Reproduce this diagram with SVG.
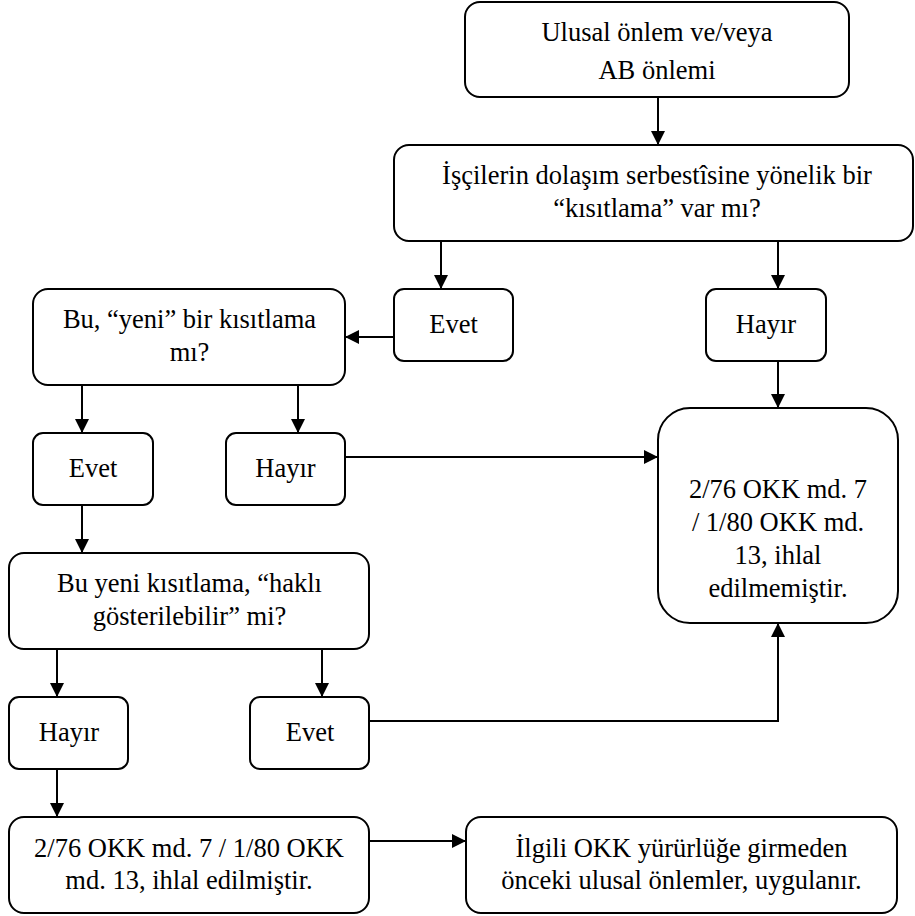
<svg xmlns="http://www.w3.org/2000/svg" width="915" height="916" viewBox="0 0 915 916">
  <style>
    .box { fill: #ffffff; stroke: #000000; stroke-width: 2; }
    .t { font-size: 26.5px; fill: #000000; text-anchor: middle; }
    .c { fill: none; stroke: #000000; stroke-width: 2; marker-end: url(#arr); }
  </style>
  <defs>
    <marker id="arr" markerUnits="userSpaceOnUse" markerWidth="14" markerHeight="14" refX="14" refY="7" orient="auto">
      <path d="M0,0 L14,7 L0,14 Z" fill="#000000"/>
    </marker>
  </defs>
  <rect x="0" y="0" width="915" height="916" fill="#ffffff"/>

  <g id="connectors">
    <path class="c" d="M658,97 L658,145"/>
    <path class="c" d="M441,241 L441,289"/>
    <path class="c" d="M778,241 L778,289"/>
    <path class="c" d="M394,337 L345,337"/>
    <path class="c" d="M778,361 L778,408"/>
    <path class="c" d="M82,385 L82,433"/>
    <path class="c" d="M298,385 L298,433"/>
    <path class="c" d="M345,457 L658,457"/>
    <path class="c" d="M82,505 L82,553"/>
    <path class="c" d="M57,649 L57,697"/>
    <path class="c" d="M322,649 L322,697"/>
    <path class="c" d="M369,721 L778,721 L778,623"/>
    <path class="c" d="M57,769 L57,817"/>
    <path class="c" d="M369,841 L466,841"/>
  </g>

  <g id="nodes" font-family="Liberation Serif, Tinos, Times New Roman, DejaVu Serif, serif">
  <g id="n1">
    <rect class="box" x="465" y="2" width="384" height="95" rx="15"/>
    <text class="t" x="657" y="41">Ulusal önlem ve/veya</text>
    <text class="t" x="657" y="79">AB önlemi</text>
  </g>
  <g id="n2">
    <rect class="box" x="394" y="145" width="519" height="96" rx="15"/>
    <text class="t" x="657" y="184">İşçilerin dolaşım serbestîsine yönelik bir</text>
    <text class="t" x="657" y="217">“kısıtlama” var mı?</text>
  </g>
  <g id="n3">
    <rect class="box" x="394" y="289" width="119" height="72" rx="10"/>
    <text class="t" x="453.5" y="333">Evet</text>
  </g>
  <g id="n4">
    <rect class="box" x="706" y="289" width="120" height="72" rx="10"/>
    <text class="t" x="766" y="333">Hayır</text>
  </g>
  <g id="n5">
    <rect class="box" x="33" y="289" width="312" height="96" rx="15"/>
    <text class="t" x="189.5" y="328">Bu, “yeni” bir kısıtlama</text>
    <text class="t" x="189.5" y="361">mı?</text>
  </g>
  <g id="n6">
    <rect class="box" x="33" y="433" width="120" height="72" rx="10"/>
    <text class="t" x="93" y="477">Evet</text>
  </g>
  <g id="n7">
    <rect class="box" x="226" y="433" width="119" height="72" rx="10"/>
    <text class="t" x="285.5" y="477">Hayır</text>
  </g>
  <g id="n8">
    <rect class="box" x="658" y="408" width="240" height="215" rx="32"/>
    <text class="t" x="778" y="498">2/76 OKK md. 7</text>
    <text class="t" x="778" y="531">/ 1/80 OKK md.</text>
    <text class="t" x="778" y="564">13, ihlal</text>
    <text class="t" x="778" y="597">edilmemiştir.</text>
  </g>
  <g id="n9">
    <rect class="box" x="9" y="553" width="360" height="96" rx="15"/>
    <text class="t" x="189.5" y="592">Bu yeni kısıtlama, “haklı</text>
    <text class="t" x="189.5" y="625">gösterilebilir” mi?</text>
  </g>
  <g id="n10">
    <rect class="box" x="9" y="697" width="119" height="72" rx="10"/>
    <text class="t" x="69" y="741">Hayır</text>
  </g>
  <g id="n11">
    <rect class="box" x="250" y="697" width="119" height="72" rx="10"/>
    <text class="t" x="310" y="741">Evet</text>
  </g>
  <g id="n12">
    <rect class="box" x="9" y="817" width="360" height="96" rx="15"/>
    <text class="t" x="189" y="857">2/76 OKK md. 7 / 1/80 OKK</text>
    <text class="t" x="189" y="889">md. 13, ihlal edilmiştir.</text>
  </g>
  <g id="n13">
    <rect class="box" x="466" y="817" width="431" height="96" rx="15"/>
    <text class="t" x="681.5" y="857">İlgili OKK yürürlüğe girmeden</text>
    <text class="t" x="681.5" y="889">önceki ulusal önlemler, uygulanır.</text>
  </g>
  </g>
</svg>
